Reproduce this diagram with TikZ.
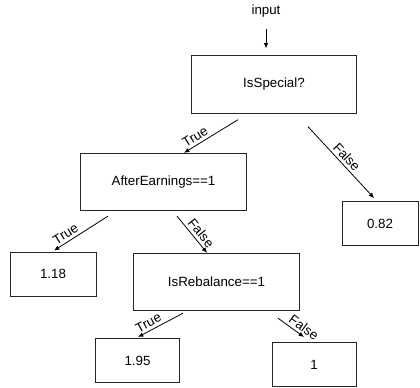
\documentclass[tikz,border=0pt]{standalone}
\usepackage{fontspec}
\setmainfont{Liberation Sans}
\usetikzlibrary{calc}
\usetikzlibrary{arrows.meta}
\tikzset{cond box/.style={draw=black!85,rectangle,minimum width=124pt,minimum height=43pt,inner sep=0}}
\tikzset{leaf box/.style={draw=black!85,rectangle,minimum width=63pt,minimum height=33pt,inner sep=0}}
\tikzset{branch/.style={-{Latex[length=4pt,width=3.5pt]},line width=0.6pt}}
\tikzset{edge label/.style={sloped,above,inner sep=2pt}}

\begin{document}
\begin{tikzpicture}[x=0.75pt,y=-0.75pt,font=\fontsize{10}{12}\selectfont,line width=0.75pt]
            \useasboundingbox (0,0) rectangle (420,387);

            %条件ボックス
            \node (in) at (266,11) {input};
            \node[cond box] (sp) at (274,84.5) {IsSpecial?};
            \node[cond box] (ae) at (163.5,182) {AfterEarnings==1};
            \node[cond box] (rb) at (216.5,282) {IsRebalance==1};

            %葉ボックス
            \node[leaf box, minimum width=57pt] (v082) at (380,223.5) {0.82};
            \node[leaf box, minimum width=64.5pt] (v118) at (53,274) {1.18};
            \node[leaf box] (v195) at (137.5,360.5) {1.95};
            \node[leaf box] (v1) at (314,364.5) {1};

            %矢印
            \draw[branch] ($(in.south)+(0,7)$) -- ($(sp.north)+(-8,-7)$);
            \draw[branch] ($(sp.south)+(-36,6)$) -- node[edge label, pos=0.72] {True} ($(ae.north)+(20.5,0)$);
            \draw[branch] ($(sp.south)+(34,13)$) -- node[edge label, pos=0.5] {False} ($(v082.north)+(-6,-3)$);
            \draw[branch] ($(ae.south)+(-55.5,5)$) -- node[edge label, pos=0.71] {True} ($(v118.north)+(1,-1)$);
            \draw[branch] ($(ae.south)+(13.5,5)$) -- node[edge label, pos=0.6] {False} ($(rb.north)+(-9.5,0)$);
            \draw[branch] ($(rb.south)+(-33.5,2)$) -- node[edge label, pos=0.69] {True} ($(v195.north)+(0.5,-1)$);
            \draw[branch] ($(rb.south)+(61.5,7)$) -- node[edge label, pos=0.82] {False} ($(v1.north)+(-10,-5)$);

          \end{tikzpicture}
\end{document}
